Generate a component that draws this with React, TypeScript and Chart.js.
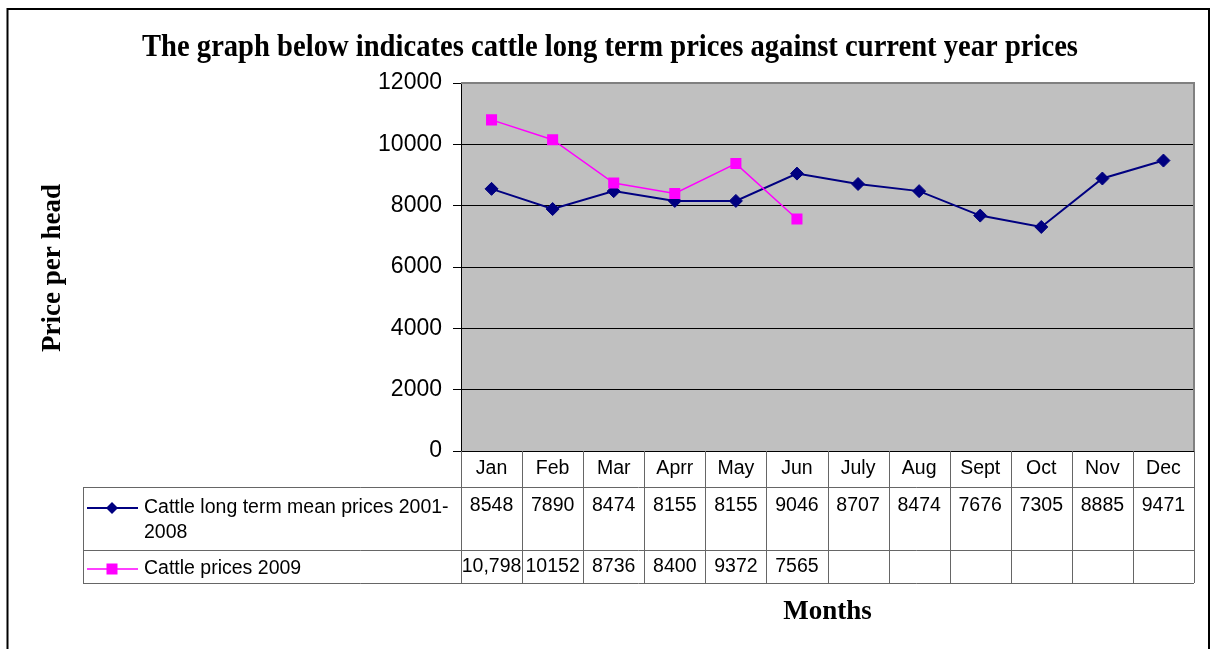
import { useEffect, useRef } from "react";
import { Chart, registerables } from "chart.js";

Chart.register(...registerables);

const chartTitle = "The graph below indicates cattle long term prices against current year prices";
const yAxisTitle = "Price per head";
const xAxisTitle = "Months";

const months = ["Jan", "Feb", "Mar", "Aprr", "May", "Jun", "July", "Aug", "Sept", "Oct", "Nov", "Dec"];

const longTermLabelLines = ["Cattle long term mean prices 2001-", "2008"];
const longTermValues = [8548, 7890, 8474, 8155, 8155, 9046, 8707, 8474, 7676, 7305, 8885, 9471];

const prices2009LabelLines = ["Cattle prices 2009"];
const prices2009Values: (number | null)[] = [10798, 10152, 8736, 8400, 9372, 7565, null, null, null, null, null, null];
const prices2009Text = ["10,798", "10152", "8736", "8400", "9372", "7565", "", "", "", "", "", ""];

const yMin = 0;
const yMax = 12000;
const yStep = 2000;

const NAVY = "#000080";
const MAGENTA = "#FF00FF";
const SANS = "'Liberation Sans', Arial, sans-serif";
const SERIF = "'Liberation Serif', 'Times New Roman', serif";

const excelPlugin = {
  id: "excelLook",
  beforeDraw(chart: any) {
    const { ctx, chartArea: a } = chart;
    ctx.save();
    ctx.fillStyle = "#ffffff";
    ctx.fillRect(0, 0, chart.width, chart.height);
    ctx.fillStyle = "#C0C0C0";
    ctx.fillRect(a.left, a.top, a.right - a.left, a.bottom - a.top);
    ctx.restore();
  },
  afterDraw(chart: any) {
    const { ctx, chartArea: a } = chart;
    const xs = chart.scales.x;
    const n = months.length;
    const colW = (a.right - a.left) / n;
    ctx.save();

    // plot area border (top & right)
    ctx.strokeStyle = "#808080";
    ctx.lineWidth = 2;
    ctx.beginPath();
    ctx.moveTo(a.left, a.top);
    ctx.lineTo(a.right, a.top);
    ctx.lineTo(a.right, a.bottom);
    ctx.stroke();

    // data table
    const headerBottom = a.bottom + 36;
    const row1Bottom = a.bottom + 99;
    const row2Bottom = a.bottom + 132;
    const labelLeft = 83;
    ctx.strokeStyle = "#666666";
    ctx.lineWidth = 1;
    ctx.beginPath();
    [headerBottom, row1Bottom, row2Bottom].forEach((y) => {
      ctx.moveTo(labelLeft, Math.round(y) + 0.5);
      ctx.lineTo(a.right, Math.round(y) + 0.5);
    });
    ctx.moveTo(labelLeft + 0.5, headerBottom);
    ctx.lineTo(labelLeft + 0.5, row2Bottom);
    for (let i = 0; i <= n; i++) {
      const x = Math.round(a.left + i * colW) + 0.5;
      ctx.moveTo(x, a.bottom);
      ctx.lineTo(x, row2Bottom);
    }
    ctx.stroke();

    ctx.fillStyle = "#000";
    ctx.font = `19.5px ${SANS}`;
    ctx.textAlign = "center";
    ctx.textBaseline = "middle";
    months.forEach((m, i) => {
      const cx = xs.getPixelForValue(i);
      ctx.fillText(m, cx, a.bottom + 18);
      ctx.fillText(String(longTermValues[i]), cx, headerBottom + 19);
      ctx.fillText(prices2009Text[i], cx, row1Bottom + 17, colW + 6);
    });

    // legend keys + labels
    ctx.textAlign = "left";
    longTermLabelLines.forEach((t, k) => ctx.fillText(t, 144, headerBottom + 21 + k * 25));
    prices2009LabelLines.forEach((t, k) => ctx.fillText(t, 144, row1Bottom + 19 + k * 25));

    const keyY1 = headerBottom + 21;
    const keyY2 = row1Bottom + 19;
    ctx.lineWidth = 2;
    ctx.strokeStyle = NAVY;
    ctx.beginPath();
    ctx.moveTo(87, keyY1);
    ctx.lineTo(138, keyY1);
    ctx.stroke();
    ctx.fillStyle = NAVY;
    ctx.beginPath();
    ctx.moveTo(112 - 6, keyY1);
    ctx.lineTo(112, keyY1 - 6);
    ctx.lineTo(112 + 6, keyY1);
    ctx.lineTo(112, keyY1 + 6);
    ctx.closePath();
    ctx.fill();

    ctx.lineWidth = 1.5;
    ctx.strokeStyle = MAGENTA;
    ctx.beginPath();
    ctx.moveTo(87, keyY2);
    ctx.lineTo(138, keyY2);
    ctx.stroke();
    ctx.fillStyle = MAGENTA;
    ctx.fillRect(112 - 5.5, keyY2 - 5.5, 11, 11);

    // titles
    ctx.fillStyle = "#000";
    ctx.textAlign = "center";
    ctx.textBaseline = "alphabetic";
    ctx.font = `bold 31px ${SERIF}`;
    ctx.fillText(chartTitle, 610, 56, 936);
    ctx.font = `bold 27px ${SERIF}`;
    ctx.fillText(xAxisTitle, (a.left + a.right) / 2, 619);
    ctx.save();
    ctx.translate(60, (a.top + a.bottom) / 2 + 1);
    ctx.rotate(-Math.PI / 2);
    ctx.fillText(yAxisTitle, 0, 0);
    ctx.restore();

    // outer frame
    ctx.strokeStyle = "#000";
    ctx.lineWidth = 2;
    ctx.strokeRect(7.5, 9, 1201.5, 700);

    ctx.restore();
  },
};

export default function App() {
  const ref = useRef<HTMLCanvasElement>(null);
  useEffect(() => {
    if (!ref.current) return;
    const chart = new Chart(ref.current, {
      type: "line",
      data: {
        labels: months,
        datasets: [
          {
            label: longTermLabelLines.join(""),
            data: longTermValues,
            borderColor: NAVY,
            backgroundColor: NAVY,
            borderWidth: 2,
            pointStyle: "rectRot",
            pointRadius: 6.5,
            pointBorderWidth: 1,
            pointBorderColor: NAVY,
            pointBackgroundColor: NAVY,
            tension: 0,
            order: 1,
          },
          {
            label: prices2009LabelLines.join(""),
            data: prices2009Values,
            borderColor: MAGENTA,
            backgroundColor: MAGENTA,
            borderWidth: 1.5,
            pointStyle: "rect",
            pointRadius: 7.8,
            pointBorderWidth: 0,
            pointBackgroundColor: MAGENTA,
            tension: 0,
            order: 0,
          },
        ],
      },
      options: {
        animation: false,
        responsive: false,
        layout: { padding: { top: 83, bottom: 198, left: 361, right: 19 } },
        plugins: { legend: { display: false }, tooltip: { enabled: false }, title: { display: false } },
        scales: {
          x: { type: "category", display: false, offset: true },
          y: {
            min: yMin,
            max: yMax,
            ticks: {
              stepSize: yStep,
              color: "#000",
              padding: 11,
              font: { family: SANS, size: 23 },
              callback: (v: any) => String(v),
            },
            grid: { color: "#000", lineWidth: 1, tickLength: 8, drawTicks: true },
            border: { display: true, color: "#000", width: 1 },
            afterFit(scale: any) {
              scale.width = 100;
            },
          },
        },
      },
      plugins: [excelPlugin],
    });
    return () => chart.destroy();
  }, []);
  return (
    <div style={{ position: "absolute", left: 0, top: 0 }}>
      <canvas ref={ref} width={1213} height={649} style={{ width: 1213, height: 649, display: "block" }} />
    </div>
  );
}
